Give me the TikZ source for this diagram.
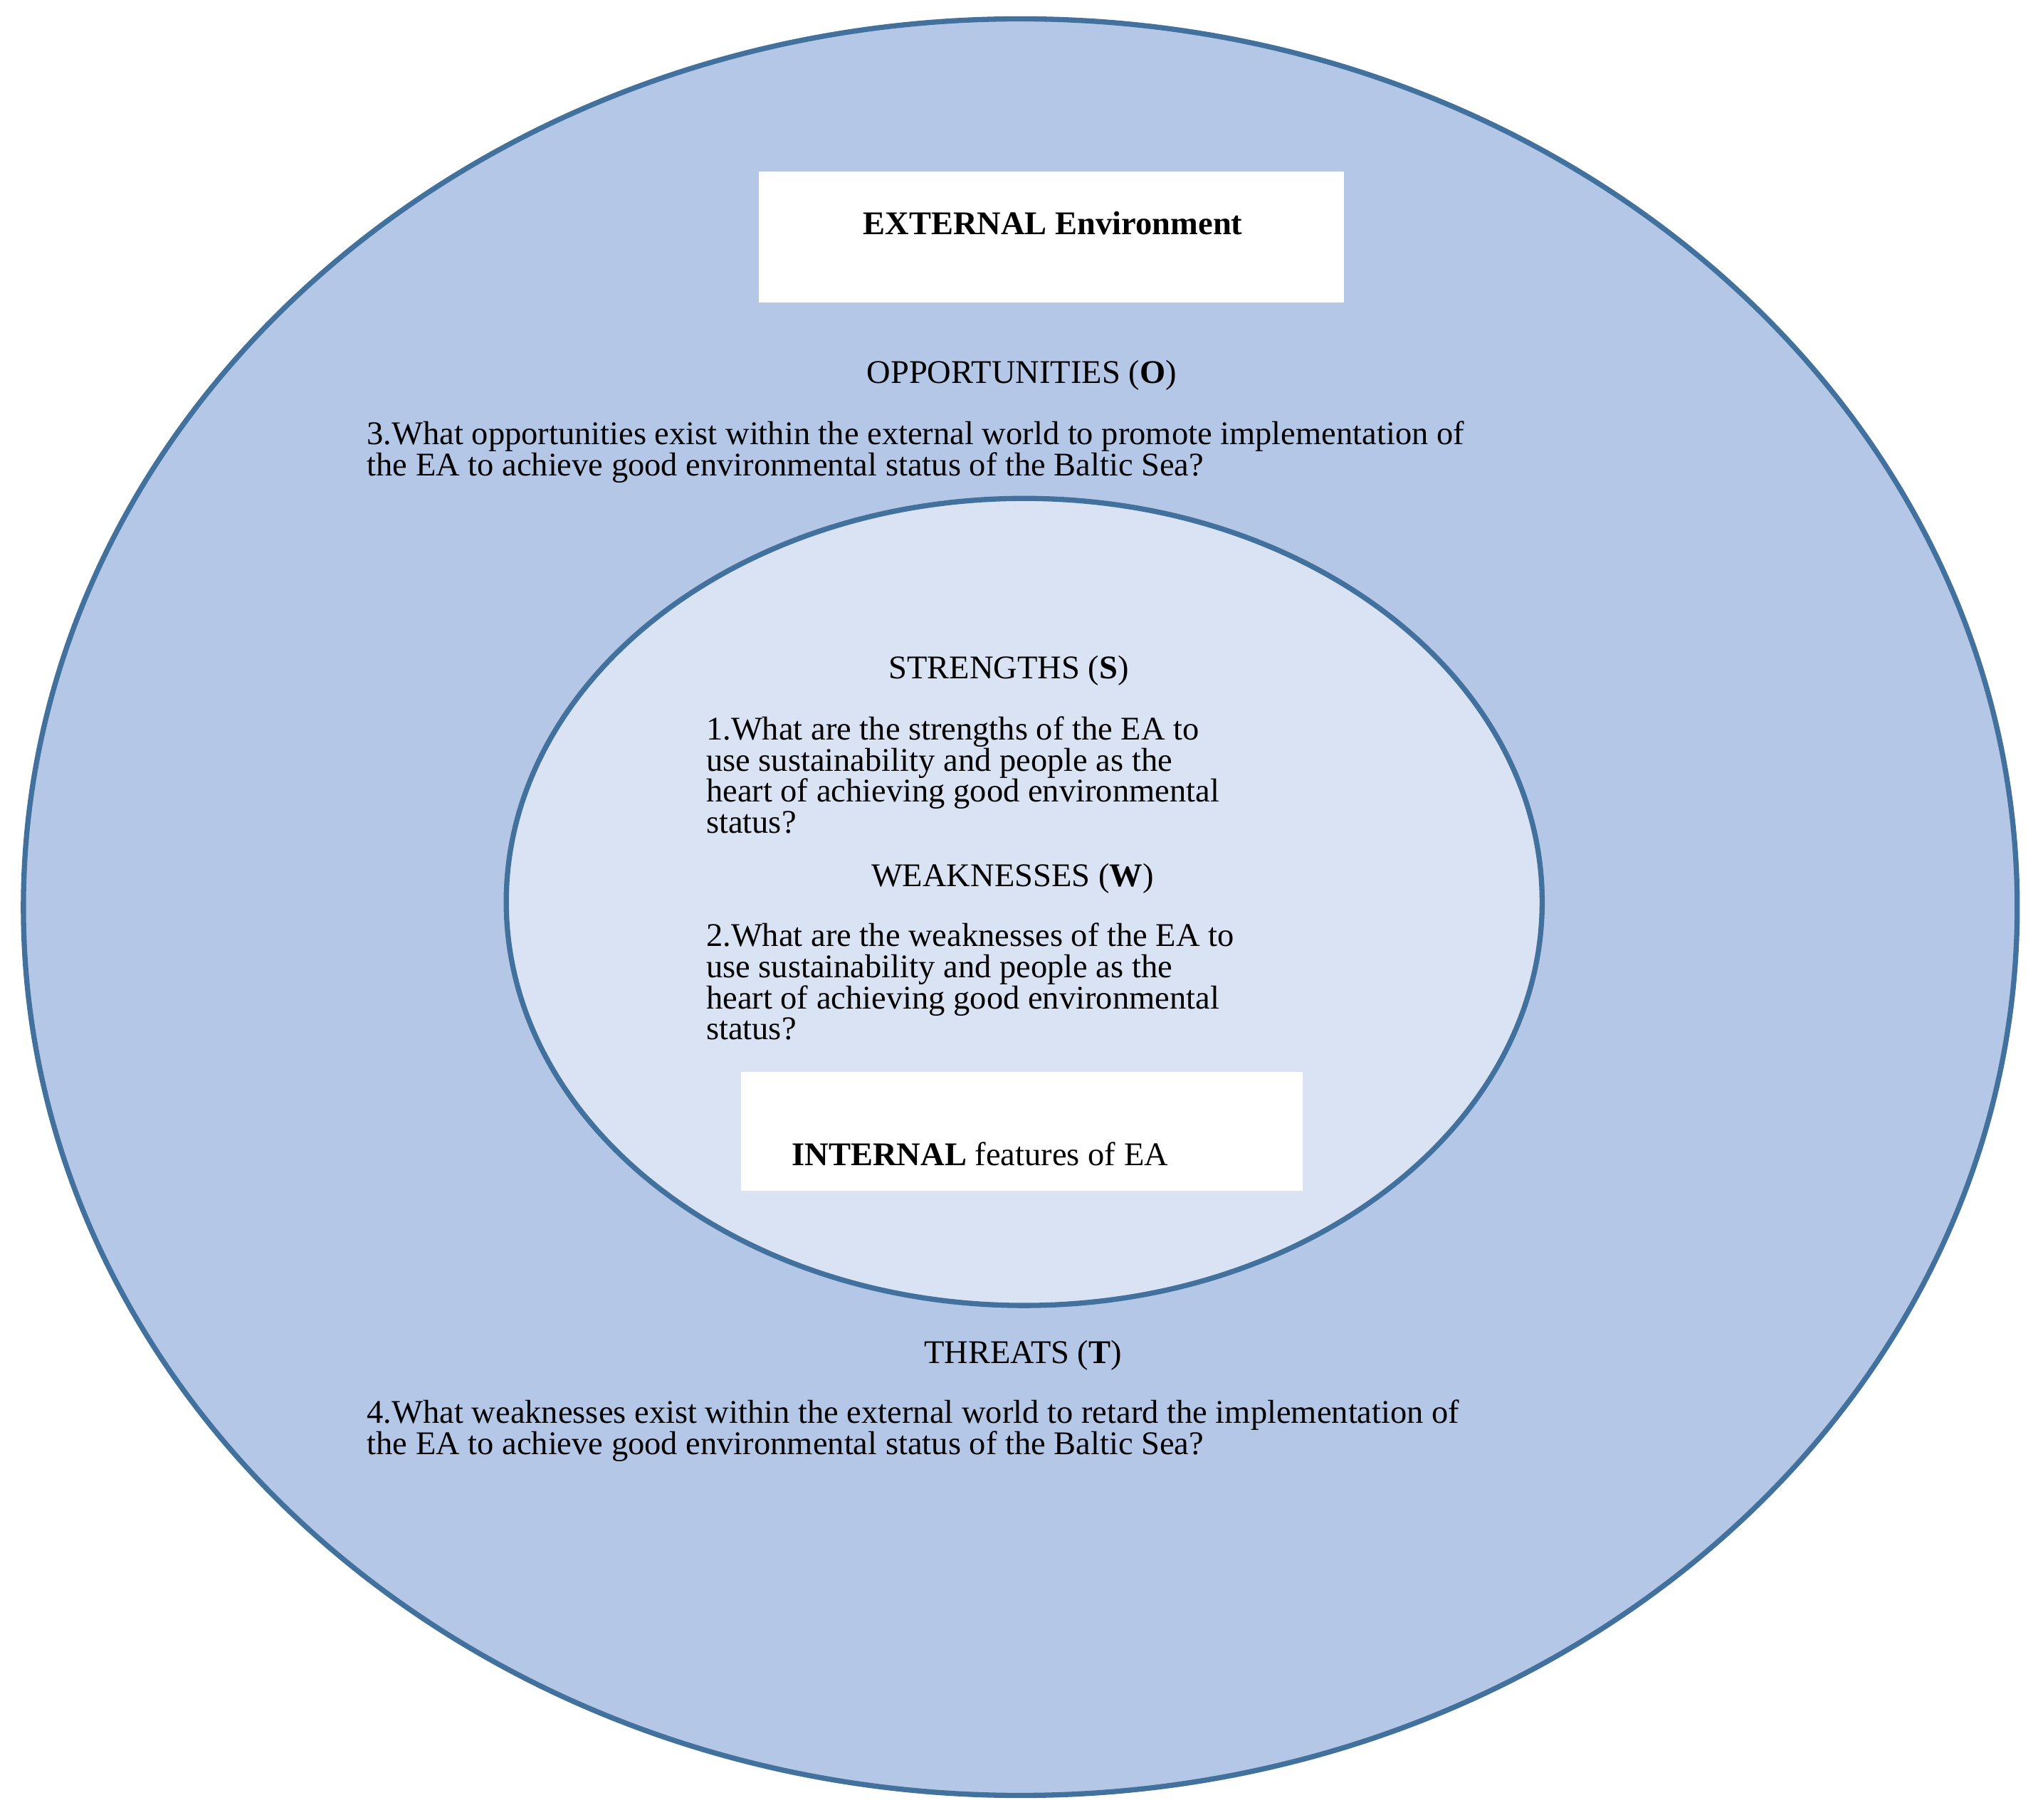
\documentclass[tikz,border=0pt]{standalone}
\usepackage{fontspec}
\usetikzlibrary{shapes.geometric}
\setmainfont{Liberation Serif}
\definecolor{outerfill}{HTML}{B4C7E7}
\definecolor{innerfill}{HTML}{DAE3F3}
\definecolor{rim}{HTML}{41719C}
\begin{document}
\begin{tikzpicture}[x=0.02cm,y=-0.02cm,
  ring/.style={draw=rim,line width=0.08cm},
  wbox/.style={fill=white,draw=none},
  txt/.style={font=\fontsize{14.5}{13.6}\selectfont,inner sep=0pt},
  para/.style={txt,align=left,anchor=north west}]
\useasboundingbox (0,0) rectangle (1568,1400);
\node[ring,fill=outerfill,ellipse,minimum width=1534*0.02cm,minimum height=1367*0.02cm,inner sep=0pt] (outer) at (785,698) {};
\node[ring,fill=innerfill,ellipse,minimum width=797*0.02cm,minimum height=621*0.02cm,inner sep=0pt] (inner) at (788,694) {};
\fill[white] (584,132) rectangle (1034,233);
\fill[white] (570,825) rectangle (1002,916);
\node[txt] (ext) at (810,172) {\textbf{EXTERNAL Environment}};
\node[txt] (opp) at (786,289) {OPPORTUNITIES (\textbf{O})};
\node[para] (oq) at (282,324) {3.What opportunities exist within the external world to promote implementation of\\the EA to achieve good environmental status of the Baltic Sea?};
\node[txt] (str) at (776,516) {STRENGTHS (\textbf{S})};
\node[para] (sq) at (543,551) {1.What are the strengths of the EA to\\use sustainability and people as the\\heart of achieving good environmental\\status?};
\node[txt] (wea) at (779,676) {WEAKNESSES (\textbf{W})};
\node[para] (wq) at (543,710) {2.What are the weaknesses of the EA to\\use sustainability and people as the\\heart of achieving good environmental\\status?};
\node[txt,anchor=west] (int) at (609,888) {\textbf{INTERNAL} features of EA};
\node[txt] (thr) at (787,1043) {THREATS (\textbf{T})};
\node[para] (tq) at (282,1077) {4.What weaknesses exist within the external world to retard the implementation of\\the EA to achieve good environmental status of the Baltic Sea?};
\end{tikzpicture}
\end{document}
